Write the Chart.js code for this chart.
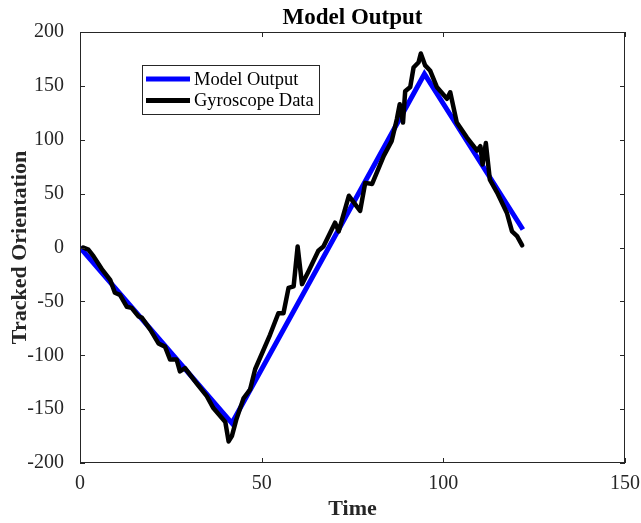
<!DOCTYPE html>
<html>
<head>
<meta charset="utf-8">
<script src="https://cdn.jsdelivr.net/npm/chart.js@4"></script>
<style>
  html, body { margin: 0; padding: 0; background: #fff; }
  #wrap { width: 641px; height: 523px; }
</style>
</head>
<body>
<div id="wrap"><canvas id="orientationChart" width="641" height="523"></canvas></div>
<script>
// Model output: piecewise linear track
const modelTime = [0, 41.8, 94.8, 121.9]
const modelAngle = [0, -163, 161, 16.7]

// Gyroscope trace
const gyroTime = [0.9, 2.3, 3.7, 6, 8.3, 9.6, 11, 12.9, 14.2, 16.1, 17, 19.3, 21.6, 23.4, 24.8, 26.6,
  27.5, 28.9, 32.1, 34.9, 36.7, 40, 40.9, 41.8, 43, 45, 46.8, 48.2, 52.3, 54.6, 56, 57.4, 58.8,
  59.9, 61.1, 62.9, 65.6, 67, 70.2, 71.2, 74, 77.1, 78.5, 80.4, 83.6, 85.8, 87.2, 88, 88.9, 89.5,
  90.9, 91.8, 93.2, 93.8, 95, 96.4, 98.2, 101, 101.9, 103.7, 106.5, 109.3, 110.2, 110.8, 111.7,
  112.8, 114.8, 117.5, 118.9, 120.3, 121.7]
const gyroAngle = [0, -2, -8, -20, -30, -42, -44, -55, -56, -64, -65, -76, -89, -92, -104, -104,
  -115, -112, -126, -138, -149, -162, -180, -175, -160, -140, -132, -113, -81, -61, -61, -37.5, -36,
  1, -34, -22, -3, 1, 23, 15, 48, 34, 60, 59, 85, 99, 119, 133, 116, 145,
  149, 167, 172, 180, 169, 164, 149, 138, 144, 116, 102, 90, 94, 77, 97,
  63, 51, 32, 15, 10.5, 2]

const xTicks = [0, 50, 100, 150]
const yTicks = [-200, -150, -100, -50, 0, 50, 100, 150, 200]
const seriesNames = ['Model Output', 'Gyroscope Data']
const seriesColors = ['#0000ff', '#000000']

const serif = '"Liberation Serif", "DejaVu Serif", serif'
const axisGray = '#262626'

// box, inward ticks, title and legend drawn like a MATLAB figure
const matlabFrame = {
  id: 'matlabFrame',
  afterDraw(chart) {
    const { ctx, chartArea: a, scales } = chart
    ctx.save()
    ctx.strokeStyle = axisGray
    ctx.lineWidth = 1
    ctx.strokeRect(a.left + 0.5, a.top + 0.5, a.right - a.left - 1, a.bottom - a.top - 1)
    ctx.beginPath()
    xTicks.forEach(v => {
      const x = Math.round(scales.x.getPixelForValue(v)) + 0.5
      ctx.moveTo(x, a.bottom); ctx.lineTo(x, a.bottom - 5)
      ctx.moveTo(x, a.top); ctx.lineTo(x, a.top + 5)
    })
    yTicks.forEach(v => {
      const y = Math.round(scales.y.getPixelForValue(v)) + 0.5
      ctx.moveTo(a.left, y); ctx.lineTo(a.left + 5, y)
      ctx.moveTo(a.right, y); ctx.lineTo(a.right - 5, y)
    })
    ctx.stroke()

    // title
    ctx.fillStyle = '#000'
    ctx.font = 'bold 23px ' + serif
    ctx.textAlign = 'center'
    ctx.textBaseline = 'alphabetic'
    ctx.fillText('Model Output', (a.left + a.right) / 2, 24)

    // legend
    const lx = a.left + 62, ly = a.top + 33, lw = 177, lh = 49
    ctx.fillStyle = '#fff'
    ctx.fillRect(lx, ly, lw, lh)
    ctx.strokeStyle = axisGray
    ctx.strokeRect(lx + 0.5, ly + 0.5, lw, lh)
    ctx.font = '18.5px ' + serif
    ctx.textAlign = 'left'
    ctx.textBaseline = 'middle'
    seriesNames.forEach((name, i) => {
      const y = ly + 14 + i * 21.5
      ctx.strokeStyle = seriesColors[i]
      ctx.lineWidth = 5
      ctx.beginPath()
      ctx.moveTo(lx + 4, y); ctx.lineTo(lx + 48, y)
      ctx.stroke()
      ctx.fillStyle = '#000'
      ctx.fillText(name, lx + 52, y + 1)
    })
    ctx.restore()
  }
}

new Chart(document.getElementById('orientationChart'), {
  type: 'line',
  data: {
    datasets: [
      {
        label: seriesNames[0],
        data: modelTime.map((t, i) => ({ x: t, y: modelAngle[i] })),
        borderColor: seriesColors[0],
        borderWidth: 5,
        pointRadius: 0,
        tension: 0,
        order: 2,
      },
      {
        label: seriesNames[1],
        data: gyroTime.map((t, i) => ({ x: t, y: gyroAngle[i] })),
        borderColor: seriesColors[1],
        borderWidth: 4.5,
        pointRadius: 0,
        tension: 0,
        borderJoinStyle: 'round',
        borderCapStyle: 'round',
        order: 1,
      },
    ],
  },
  options: {
    responsive: false,
    animation: false,
    layout: { padding: { top: 32, right: 16, left: 0, bottom: 0 } },
    plugins: { legend: { display: false }, title: { display: false }, tooltip: { enabled: false } },
    scales: {
      x: {
        type: 'linear',
        min: 0, max: 150,
        afterBuildTicks: s => { s.ticks = xTicks.map(v => ({ value: v })) },
        afterFit: s => { s.height = 60; s.paddingLeft = 0; s.paddingRight = 0 },
        grid: { display: false },
        border: { display: false },
        ticks: { color: axisGray, font: { family: serif, size: 20 }, padding: 1 },
        title: { display: true, text: 'Time', color: axisGray, font: { family: serif, size: 22, weight: 'bold' }, padding: { top: 6, bottom: 0 } },
      },
      y: {
        min: -200, max: 200,
        afterBuildTicks: s => { s.ticks = yTicks.map(v => ({ value: v })) },
        afterFit: s => { s.width = 80; s.paddingTop = 0; s.paddingBottom = 0 },
        grid: { display: false },
        border: { display: false },
        ticks: { color: axisGray, font: { family: serif, size: 20 }, padding: 8 },
        title: { display: true, text: 'Tracked Orientation', color: axisGray, font: { family: serif, size: 22, weight: 'bold' }, padding: { bottom: 0, top: 7 } },
      },
    },
  },
  plugins: [matlabFrame],
})
</script>
</body>
</html>
